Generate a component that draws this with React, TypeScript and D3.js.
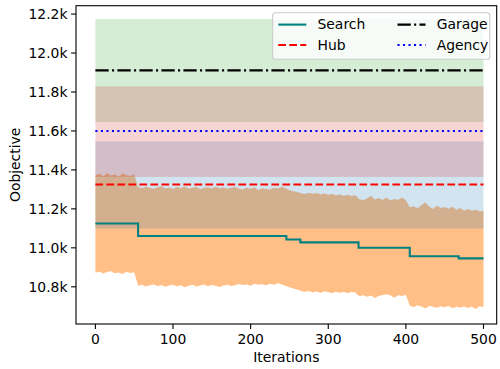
import React from 'react';
import * as d3 from 'd3';

// search band, sampled every 5 iterations (0..500)
const bandIters = d3.range(0, 501, 5);
const searchUpper = [
  11372, 11380, 11368, 11384, 11371, 11377, 11366, 11383, 11374, 11369, 11378,
  11312, 11306, 11314, 11309, 11303, 11311, 11316, 11305, 11310, 11302,
  11312, 11307, 11315, 11304, 11309, 11313, 11301, 11308, 11311, 11304,
  11314, 11306, 11310, 11303, 11309, 11312, 11305, 11300, 11308, 11303,
  11310, 11297, 11306, 11302, 11299, 11308, 11304, 11313, 11306, 11296,
  11290, 11286, 11280, 11276, 11283, 11278, 11281, 11274, 11279, 11272,
  11277, 11270, 11274, 11268, 11273, 11266, 11270, 11250, 11246, 11253,
  11268, 11248, 11256, 11245, 11258, 11243, 11251, 11247, 11258, 11244,
  11208, 11214, 11203, 11219, 11234, 11212, 11199, 11216, 11205, 11209,
  11201, 11211, 11196, 11204, 11192, 11199, 11190, 11195, 11188, 11191,
];
const searchLower = [
  10872, 10878, 10868, 10876, 10880, 10870, 10874, 10866, 10877, 10871, 10875,
  10806, 10810, 10802, 10808, 10812, 10804, 10809, 10800, 10807, 10811,
  10803, 10808, 10798, 10806, 10810, 10802, 10807, 10812, 10803, 10809,
  10805, 10799, 10807, 10811, 10804, 10808, 10814, 10809, 10812, 10806,
  10815, 10810, 10813, 10808, 10816, 10811, 10818, 10812, 10806, 10798,
  10791, 10786, 10779, 10774, 10779, 10771, 10776, 10770, 10777, 10772,
  10768, 10775, 10770, 10773, 10767, 10774, 10769, 10752, 10757, 10749,
  10755, 10742, 10753, 10758, 10762, 10756, 10744, 10757, 10753, 10759,
  10703, 10696, 10705, 10699, 10688, 10702, 10697, 10692, 10700, 10695,
  10701, 10690, 10698, 10694, 10699, 10691, 10697, 10686, 10700, 10696,
];

// search mean (step line)
const searchIters = [0, 55, 246, 264, 339, 405, 468, 500];
const searchMean = [11125, 11061, 11043, 11028, 11000, 10957, 10946, 10946];

// constant baselines: [mean, low, high]
const hubStats = [11325, 11099, 11546];
const garageStats = [11911, 11646, 12174];
const agencyStats = [11600, 11364, 11829];

const xTicks = [0, 100, 200, 300, 400, 500];
const yTicks = [10800, 11000, 11200, 11400, 11600, 11800, 12000, 12200];

const W = 500, H = 369;
const L = 76, R = 496.7, T = 5.7, B = 324;
const font = 'DejaVu Sans, sans-serif';
const fs = 13.9;

const App = () => {
  const x = d3.scaleLinear().domain([-25, 517]).range([L, R]);
  const y = d3.scaleLinear().domain([10609, 12243]).range([B, T]);

  const bandPts = bandIters.map((it, i) => ({ it, lo: searchLower[i], hi: searchUpper[i] }));
  const band = d3.area<any>().x(d => x(d.it)).y0(d => y(d.lo)).y1(d => y(d.hi))(bandPts);

  const line = d3.line<any>().x(d => x(d.it)).y(d => y(d.v)).curve(d3.curveStepAfter)(
    searchIters.map((it, i) => ({ it, v: searchMean[i] }))
  );

  const flat = (s) => ({ x0: x(0), x1: x(500), m: y(s[0]), lo: y(s[1]), hi: y(s[2]) });
  const hub = flat(hubStats), garage = flat(garageStats), agency = flat(agencyStats);

  const lw = 2.08;
  const styles = {
    search: { stroke: 'teal', dash: null },
    hub: { stroke: 'red', dash: '7.7,3.3' },
    garage: { stroke: 'black', dash: '13.3,3.3,2.1,3.3' },
    agency: { stroke: 'blue', dash: '2.1,3.4' },
  };

  const legendItems = [
    { key: 'search', label: 'Search', col: 0, row: 0 },
    { key: 'hub', label: 'Hub', col: 0, row: 1 },
    { key: 'garage', label: 'Garage', col: 1, row: 0 },
    { key: 'agency', label: 'Agency', col: 1, row: 1 },
  ];
  const lgX = 272.7, lgY = 12.7, lgW = 217, lgH = 46.5;
  const colX = [278.3, 397.5];
  const rowY = [24.6, 45];

  return (
    <svg width={W} height={H} style={{ position: 'absolute', left: 0, top: 0, background: 'white' }}
      fontFamily={font} fontSize={fs}>
      <rect x={0} y={0} width={W} height={H} fill="white" />
      <path d={band} fill="#ff7f0e" fillOpacity={0.5} />
      <rect x={hub.x0} width={hub.x1 - hub.x0} y={hub.hi} height={hub.lo - hub.hi} fill="#1f77b4" fillOpacity={0.2} />
      <rect x={garage.x0} width={garage.x1 - garage.x0} y={garage.hi} height={garage.lo - garage.hi} fill="#2ca02c" fillOpacity={0.2} />
      <rect x={agency.x0} width={agency.x1 - agency.x0} y={agency.hi} height={agency.lo - agency.hi} fill="#d62728" fillOpacity={0.2} />

      <path d={line} fill="none" stroke={styles.search.stroke} strokeWidth={lw} />
      <line x1={hub.x0} x2={hub.x1} y1={hub.m} y2={hub.m} stroke="red" strokeWidth={lw} strokeDasharray={styles.hub.dash} />
      <line x1={garage.x0} x2={garage.x1} y1={garage.m} y2={garage.m} stroke="black" strokeWidth={lw} strokeDasharray={styles.garage.dash} />
      <line x1={agency.x0} x2={agency.x1} y1={agency.m} y2={agency.m} stroke="blue" strokeWidth={lw} strokeDasharray={styles.agency.dash} />

      {/* axes frame */}
      <rect x={L} y={T} width={R - L} height={B - T} fill="none" stroke="black" strokeWidth={1.1} />

      {xTicks.map(t => (
        <g key={t} transform={`translate(${x(t)},${B})`}>
          <line y1={0} y2={4.9} stroke="black" strokeWidth={1.1} />
          <text y={20} textAnchor="middle">{t}</text>
        </g>
      ))}
      {yTicks.map(t => (
        <g key={t} transform={`translate(${L},${y(t)})`}>
          <line x1={0} x2={-4.9} stroke="black" strokeWidth={1.1} />
          <text x={-8.5} dy="0.35em" textAnchor="end">{(t / 1000).toFixed(1) + 'k'}</text>
        </g>
      ))}

      <text x={(L + R) / 2} y={362} textAnchor="middle">Iterations</text>
      <text transform={`translate(19.5,${(T + B) / 2}) rotate(-90)`} textAnchor="middle">Oobjective</text>

      {/* legend */}
      <rect x={lgX} y={lgY} width={lgW} height={lgH} rx={2.8} fill="white" fillOpacity={0.8} stroke="#cccccc" strokeWidth={1.1} />
      {legendItems.map(it => {
        const s = styles[it.key];
        const hx = colX[it.col], hy = rowY[it.row];
        return (
          <g key={it.key}>
            <line x1={hx} x2={hx + 28} y1={hy} y2={hy} stroke={s.stroke} strokeWidth={lw}
              strokeDasharray={s.dash || undefined} />
            <text x={hx + 39.2} y={hy} dy="0.35em">{it.label}</text>
          </g>
        );
      })}
    </svg>
  );
};

export default App;
